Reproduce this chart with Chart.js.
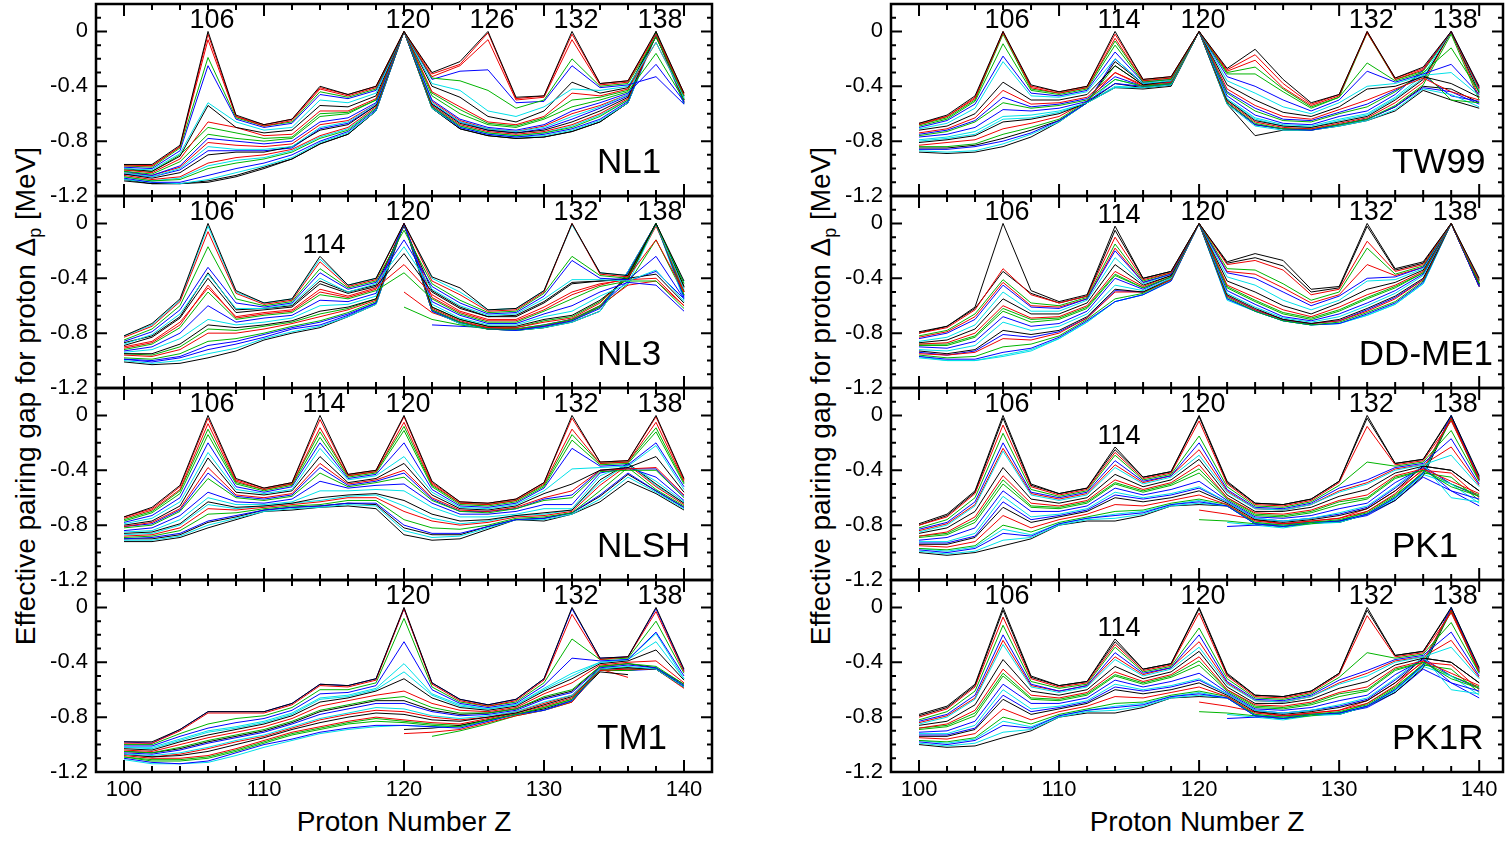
<!DOCTYPE html>
<html>
<head>
<meta charset="utf-8">
<title>Effective pairing gap for proton</title>
<script src="https://cdn.jsdelivr.net/npm/chart.js@4.4.1/dist/chart.umd.min.js"></script>
<style>
  body { margin: 0; background: #fff; width: 1506px; height: 844px; overflow: hidden; position: relative;
         font-family: "Liberation Sans", Arial, sans-serif; color: #000; }
  canvas { position: absolute; }
  .ytitle { position: absolute; top: 396px; font-size: 28px; white-space: nowrap;
            transform: translate(-50%, -50%) rotate(-90deg); }
  .ytitle sub { font-size: 18px; }
  .xtitle { position: absolute; top: 808px; font-size: 28px; line-height: 28px; white-space: nowrap;
            transform: translateX(-50%); }
</style>
</head>
<body>
<div class="ytitle" style="left:28px">Effective pairing gap for proton &Delta;<sub>p</sub> [MeV]</div>
<div class="ytitle" style="left:823px">Effective pairing gap for proton &Delta;<sub>p</sub> [MeV]</div>
<div class="xtitle" style="left:404px">Proton Number Z</div>
<div class="xtitle" style="left:1197px">Proton Number Z</div>

<script>
// proton number grid, one point every two units
const Z = [100,102,104,106,108,110,112,114,116,118,120,122,124,126,128,130,132,134,136,138,140];
const Y_TICKS = [-1.2, -0.8, -0.4, 0];
const X_TICKS = [100, 110, 120, 130, 140];
const _ = null;

// one row per isotone chain, values in MeV
const NL1 = [
  [-0.97,-0.97,-0.83, 0.00,-0.61,-0.68,-0.64,-0.40,-0.46,-0.40,0,-0.30,-0.22, 0.00,-0.48,-0.47, 0.00,-0.38,-0.36, 0.00,-0.45],
  [-0.98,-0.98,-0.84,-0.06,-0.62,-0.69,-0.65,-0.42,-0.47,-0.41,0,-0.33,-0.25,-0.06,-0.50,-0.48,-0.06,-0.39,-0.37,-0.02,-0.46],
  [-0.98,-0.99,-0.85,-0.19,-0.63,-0.69,-0.66,-0.44,-0.48,-0.42,0,-0.34,-0.36,-0.43,-0.56,-0.50,-0.20,-0.40,-0.38,-0.04,-0.47],
  [-0.99,-1.00,-0.87,-0.25,-0.64,-0.70,-0.67,-0.46,-0.49,-0.43,0,-0.35,-0.29,-0.28,-0.52,-0.51,-0.25,-0.41,-0.39,-0.33,-0.53],
  [-1.00,-1.01,-0.89,-0.52,-0.66,-0.72,-0.70,-0.50,-0.52,-0.45,0,-0.38,-0.43,-0.58,-0.62,-0.55,-0.42,-0.43,-0.40,-0.08,-0.48],
  [-1.00,-1.02,-0.91,-0.54,-0.70,-0.74,-0.72,-0.54,-0.55,-0.47,0,-0.40,-0.48,-0.62,-0.66,-0.58,-0.37,-0.45,-0.41,-0.04,-0.47],
  [-1.01,-1.03,-0.93,-0.66,-0.70,-0.76,-0.75,-0.58,-0.58,-0.49,0,-0.44,-0.55,-0.66,-0.68,-0.62,-0.45,-0.47,-0.42,-0.08,-0.48],
  [-1.02,-1.04,-0.95,-0.75,-0.78,-0.80,-0.78,-0.62,-0.60,-0.50,0,-0.47,-0.60,-0.68,-0.70,-0.64,-0.55,-0.50,-0.44,-0.16,-0.50],
  [-1.02,-1.05,-0.98,-0.78,-0.80,-0.82,-0.80,-0.66,-0.63,-0.52,0,-0.50,-0.64,-0.70,-0.72,-0.68,-0.58,-0.52,-0.45,-0.24,-0.51],
  [-1.03,-1.06,-1.00,-0.84,-0.86,-0.86,-0.84,-0.70,-0.66,-0.53,0,-0.52,-0.66,-0.71,-0.73,-0.70,-0.62,-0.55,-0.46,-0.02,-0.49],
  [-1.04,-1.07,-1.03,-0.90,-0.88,-0.88,-0.84,-0.72,-0.68,-0.54,0,-0.53,-0.67,-0.72,-0.74,-0.72,-0.66,-0.58,-0.48,-0.02,-0.50],
  [-1.05,-1.08,-1.06,-0.96,-0.92,-0.90,-0.86,-0.76,-0.70,-0.55,0,-0.54,-0.68,-0.73,-0.75,-0.73,-0.68,-0.60,-0.49,-0.03,-0.51],
  [-1.06,-1.09,-1.08,-1.00,-0.96,-0.93,-0.88,-0.78,-0.72,-0.56,0,-0.55,-0.69,-0.74,-0.76,-0.74,-0.70,-0.62,-0.50,-0.01,-0.51],
  [-1.07,-1.10,-1.10,-1.05,-1.00,-0.96,-0.90,-0.80,-0.73,-0.57,0,-0.55,-0.70,-0.75,-0.77,-0.75,-0.71,-0.64,-0.51,-0.02,-0.52],
  [-1.08,-1.10,-1.11,-1.08,-1.03,-0.98,-0.92,-0.81,-0.74,-0.58,0,-0.56,-0.70,-0.75,-0.77,-0.76,-0.72,-0.65,-0.52,-0.03,-0.53],
  [-1.09,-1.11,-1.11,-1.10,-1.06,-1.00,-0.93,-0.82,-0.75,-0.58,0,-0.56,-0.71,-0.76,-0.78,-0.77,-0.73,-0.66,-0.52,-0.01,-0.53],
  [-0.97,-0.98,-0.84,-0.02,-0.62,-0.68,-0.64,-0.41,-0.46,-0.40,0,-0.31,-0.24,-0.01,-0.49,-0.47,-0.02,-0.38,-0.36,-0.01,-0.45],
  [-1.01,-1.02,-0.90,-0.70,-0.74,-0.78,-0.77,-0.60,-0.59,-0.50,0,-0.45,-0.57,-0.67,-0.69,-0.63,-0.50,-0.48,-0.43,-0.01,-0.49],
  [-1.04,-1.06,-1.01,-0.87,-0.87,-0.87,-0.85,-0.71,-0.67,-0.54,0,-0.53,-0.66,-0.72,-0.74,-0.71,-0.64,-0.56,-0.47,-0.02,-0.50],
  [-1.06,-1.09,-1.07,-0.98,-0.94,-0.92,-0.87,-0.77,-0.71,-0.56,0,-0.54,-0.69,-0.74,-0.76,-0.74,-0.69,-0.61,-0.50,-0.01,-0.51],
  [-1.08,-1.11,-1.11,-1.09,-1.05,-0.99,-0.93,-0.82,-0.75,-0.58,0,-0.56,-0.71,-0.76,-0.78,-0.77,-0.73,-0.66,-0.52, 0.00,-0.52],
  [-1.03,-1.05,-0.99,-0.81,-0.83,-0.84,-0.82,-0.68,-0.65,-0.53,0,-0.51,-0.65,-0.71,-0.73,-0.69,-0.60,-0.54,-0.46,-0.03,-0.50]
];

const NL3 = [
  [-0.82,-0.73,-0.55, 0.00,-0.49,-0.58,-0.55,-0.24,-0.45,-0.40, 0.00,-0.39,-0.47,-0.63,-0.62,-0.49, 0.00,-0.36,-0.38, 0.00,-0.42],
  [-0.83,-0.75,-0.57,-0.06,-0.51,-0.59,-0.56,-0.28,-0.46,-0.41, 0.00,-0.42,-0.52,-0.64,-0.63,-0.50, 0.00,-0.37,-0.39,-0.12,-0.50],
  [-0.85,-0.77,-0.60,-0.17,-0.55,-0.60,-0.57,-0.33,-0.47,-0.42,-0.05,-0.44,-0.56,-0.65,-0.64,-0.51,-0.24,-0.38,-0.40, 0.00,-0.44],
  [-0.86,-0.79,-0.63,-0.32,-0.58,-0.61,-0.58,-0.36,-0.48,-0.43,-0.12,-0.46,-0.58,-0.66,-0.65,-0.53,-0.27,-0.40,-0.41,-0.24,-0.55],
  [-0.88,-0.81,-0.66,-0.37,-0.62,-0.62,-0.59,-0.40,-0.50,-0.44,-0.17,-0.48,-0.60,-0.67,-0.66,-0.55,-0.41,-0.41,-0.42,-0.34,-0.57],
  [-0.89,-0.83,-0.69,-0.40,-0.65,-0.63,-0.61,-0.44,-0.51,-0.46,-0.22,-0.50,-0.62,-0.68,-0.68,-0.58,-0.44,-0.42,-0.40,-0.37,-0.58],
  [-0.90,-0.86,-0.72,-0.47,-0.68,-0.65,-0.63,-0.48,-0.53,-0.47,-0.30,-0.52,-0.64,-0.70,-0.70,-0.61,-0.50,-0.44,-0.41,-0.40,-0.60],
  [-0.92,-0.88,-0.76,-0.50,-0.70,-0.67,-0.65,-0.52,-0.55,-0.49,-0.36,-0.55,-0.66,-0.72,-0.72,-0.64,-0.55,-0.46,-0.42,-0.42,-0.62],
  [-0.93,-0.90,-0.80,-0.60,-0.72,-0.69,-0.67,-0.56,-0.57,-0.51, 0.00,-0.57,-0.67,-0.73,-0.73,-0.66,-0.60,-0.50,-0.43,-0.45,-0.64],
  [-0.94,-0.92,-0.84,-0.70,-0.74,-0.72,-0.69,-0.60,-0.59,-0.53, 0.00,-0.59,-0.69,-0.74,-0.74,-0.68,-0.64,-0.53,-0.44, 0.00,-0.48],
  [-0.95,-0.95,-0.88,-0.74,-0.76,-0.74,-0.71,-0.64,-0.61,-0.55, 0.00,-0.61,-0.70,-0.75,-0.75,-0.70,-0.67,-0.56,-0.40, 0.00,-0.46],
  [-0.96,-0.97,-0.92,-0.80,-0.80,-0.77,-0.73,-0.68,-0.63,-0.56, 0.00,-0.62,-0.71,-0.76,-0.76,-0.72,-0.69,-0.58,-0.38, 0.00,-0.50],
  [-0.98,-0.99,-0.95,-0.86,-0.84,-0.80,-0.75,-0.71,-0.65,-0.57, 0.00,-0.63,-0.72,-0.77,-0.77,-0.74,-0.70,-0.60,-0.37, 0.00,-0.52],
  [-0.99,-1.01,-0.98,-0.92,-0.88,-0.83,-0.77,-0.74,-0.67,-0.58, 0.00,-0.64,-0.72,-0.77,-0.78,-0.75,-0.71,-0.62,-0.36, 0.00,-0.54],
  [-1.00,-1.02,-1.00,-0.95,-0.91,-0.84,-0.79,-0.75,-0.68,-0.59, 0.00,-0.64,-0.73,-0.77,-0.78,-0.76,-0.72,-0.64,-0.35, 0.00,-0.56],
  [-1.01,-1.03,-1.02,-0.98,-0.93,-0.85,-0.80,-0.76,-0.68,-0.59, 0.00,-0.64,-0.73,-0.77,-0.78,-0.76,-0.72,-0.64,-0.35, 0.00,-0.50],
  [_,_,_,_,_,_,_,_,_,_,-0.50,-0.65,-0.72,-0.76,-0.77,-0.75,-0.70,-0.60,-0.45,-0.42,-0.60],
  [_,_,_,_,_,_,_,_,_,_,-0.61,-0.70,-0.74,-0.77,-0.78,-0.76,-0.71,-0.61,-0.44,-0.12,-0.52],
  [_,_,_,_,_,_,_,_,_,_,_,-0.74,-0.75,-0.76,-0.77,-0.75,-0.70,-0.60,-0.42,-0.35,-0.55],
  [-0.82,-0.74,-0.56,-0.02,-0.50,-0.58,-0.55,-0.26,-0.45,-0.40, 0.00,-0.40,-0.50,-0.63,-0.62,-0.49,-0.01,-0.36,-0.38,-0.01,-0.43],
  [-0.87,-0.82,-0.68,-0.36,-0.63,-0.62,-0.60,-0.42,-0.50,-0.45,-0.02,-0.49,-0.61,-0.68,-0.67,-0.57,-0.43,-0.42,-0.41, 0.00,-0.46],
  [-0.91,-0.87,-0.74,-0.45,-0.69,-0.66,-0.64,-0.50,-0.54,-0.48, 0.00,-0.54,-0.65,-0.71,-0.71,-0.63,-0.52,-0.45,-0.40,-0.02,-0.47],
  [-0.95,-0.96,-0.90,-0.77,-0.78,-0.75,-0.72,-0.66,-0.62,-0.55, 0.00,-0.61,-0.70,-0.75,-0.76,-0.71,-0.68,-0.57,-0.39,-0.01,-0.49],
  [-0.99,-1.00,-0.97,-0.89,-0.86,-0.81,-0.76,-0.72,-0.66,-0.58, 0.00,-0.63,-0.72,-0.77,-0.77,-0.74,-0.70,-0.61,-0.36, 0.00,-0.53]
];

const NLSH = [
  [-0.74,-0.67,-0.51, 0.00,-0.46,-0.53,-0.49, 0.00,-0.43,-0.40, 0.00,-0.48,-0.63,-0.64,-0.61,-0.49, 0.00,-0.34,-0.33, 0.00,-0.46],
  [-0.75,-0.69,-0.54,-0.06,-0.48,-0.54,-0.50,-0.09,-0.44,-0.41,-0.05,-0.50,-0.64,-0.65,-0.62,-0.50,-0.10,-0.35,-0.34,-0.05,-0.48],
  [-0.77,-0.71,-0.57,-0.14,-0.50,-0.55,-0.51,-0.16,-0.45,-0.42,-0.11,-0.52,-0.65,-0.66,-0.63,-0.52,-0.18,-0.36,-0.35,-0.12,-0.50],
  [-0.78,-0.73,-0.60,-0.20,-0.52,-0.56,-0.52,-0.20,-0.46,-0.43,-0.20,-0.54,-0.66,-0.67,-0.64,-0.53,-0.24,-0.37,-0.36,-0.20,-0.52],
  [-0.79,-0.75,-0.63,-0.27,-0.54,-0.57,-0.54,-0.24,-0.47,-0.44,-0.30,-0.56,-0.67,-0.68,-0.65,-0.55,-0.39,-0.38,-0.37,-0.22,-0.54],
  [-0.80,-0.77,-0.66,-0.31,-0.56,-0.58,-0.55,-0.30,-0.49,-0.46,-0.35,-0.58,-0.68,-0.69,-0.66,-0.57,-0.50,-0.40,-0.38,-0.30,-0.56],
  [-0.81,-0.78,-0.68,-0.38,-0.58,-0.60,-0.57,-0.35,-0.50,-0.47,-0.40,-0.60,-0.69,-0.70,-0.67,-0.60,-0.55,-0.40,-0.39,-0.38,-0.58],
  [-0.82,-0.80,-0.70,-0.46,-0.60,-0.62,-0.59,-0.42,-0.52,-0.49,-0.45,-0.62,-0.70,-0.71,-0.68,-0.62,-0.60,-0.41,-0.40,-0.40,-0.60],
  [-0.84,-0.82,-0.73,-0.56,-0.63,-0.64,-0.61,-0.48,-0.53,-0.51,-0.50,-0.64,-0.72,-0.72,-0.70,-0.65,-0.65,-0.42,-0.38,-0.45,-0.62],
  [-0.85,-0.84,-0.76,-0.60,-0.65,-0.65,-0.63,-0.55,-0.55,-0.54,-0.55,-0.67,-0.74,-0.74,-0.72,-0.68,-0.68,-0.44,-0.36,-0.48,-0.63],
  [-0.86,-0.85,-0.79,-0.63,-0.67,-0.66,-0.64,-0.60,-0.58,-0.57,-0.62,-0.72,-0.77,-0.76,-0.73,-0.71,-0.69,-0.47,-0.35,-0.50,-0.64],
  [-0.88,-0.87,-0.82,-0.68,-0.69,-0.67,-0.65,-0.63,-0.60,-0.60,-0.70,-0.77,-0.80,-0.78,-0.74,-0.73,-0.70,-0.51,-0.36,-0.52,-0.65],
  [-0.89,-0.88,-0.84,-0.72,-0.71,-0.68,-0.66,-0.65,-0.62,-0.62,-0.76,-0.82,-0.83,-0.80,-0.75,-0.74,-0.71,-0.55,-0.38,-0.54,-0.66],
  [-0.90,-0.89,-0.86,-0.77,-0.73,-0.69,-0.67,-0.66,-0.64,-0.64,-0.80,-0.86,-0.86,-0.81,-0.76,-0.75,-0.71,-0.58,-0.42,-0.55,-0.67],
  [-0.91,-0.91,-0.88,-0.80,-0.75,-0.70,-0.68,-0.67,-0.65,-0.66,-0.84,-0.89,-0.88,-0.82,-0.76,-0.76,-0.72,-0.61,-0.45,-0.56,-0.68],
  [-0.92,-0.92,-0.89,-0.82,-0.76,-0.70,-0.69,-0.67,-0.66,-0.68,-0.87,-0.91,-0.90,-0.83,-0.76,-0.77,-0.72,-0.63,-0.48,-0.57,-0.69],
  [-0.74,-0.68,-0.52,-0.02,-0.47,-0.53,-0.49,-0.03,-0.43,-0.40,-0.01,-0.49,-0.63,-0.64,-0.61,-0.49,-0.02,-0.34,-0.33,-0.01,-0.47],
  [-0.76,-0.70,-0.55,-0.10,-0.49,-0.54,-0.50,-0.12,-0.44,-0.41,-0.08,-0.51,-0.64,-0.65,-0.62,-0.51,-0.14,-0.35,-0.34,-0.09,-0.49],
  [-0.81,-0.79,-0.69,-0.42,-0.59,-0.61,-0.58,-0.38,-0.51,-0.48,-0.42,-0.61,-0.70,-0.70,-0.68,-0.61,-0.58,-0.40,-0.39,-0.39,-0.59],
  [-0.87,-0.86,-0.80,-0.65,-0.68,-0.66,-0.64,-0.62,-0.59,-0.58,-0.66,-0.75,-0.79,-0.77,-0.73,-0.72,-0.69,-0.49,-0.35,-0.51,-0.64],
  [-0.90,-0.90,-0.87,-0.78,-0.74,-0.69,-0.67,-0.66,-0.64,-0.65,-0.82,-0.87,-0.87,-0.81,-0.76,-0.75,-0.71,-0.59,-0.43,-0.55,-0.67]
];

const TM1 = [
  [-0.98,-0.98,-0.89,-0.76,-0.76,-0.76,-0.70,-0.56,-0.57,-0.52, 0.00,-0.55,-0.67,-0.71,-0.67,-0.52, 0.00,-0.37,-0.36, 0.00,-0.45],
  [-0.99,-0.99,-0.90,-0.77,-0.77,-0.77,-0.71,-0.57,-0.58,-0.53,-0.01,-0.56,-0.68,-0.72,-0.68,-0.53,-0.05,-0.38,-0.36,-0.03,-0.47],
  [-1.00,-1.00,-0.92,-0.85,-0.81,-0.79,-0.73,-0.60,-0.60,-0.55,-0.08,-0.58,-0.69,-0.72,-0.69,-0.55,-0.23,-0.38,-0.37,-0.10,-0.48],
  [-1.01,-1.01,-0.94,-0.88,-0.84,-0.81,-0.75,-0.63,-0.62,-0.57,-0.25,-0.60,-0.70,-0.73,-0.70,-0.57,-0.37,-0.39,-0.38,-0.18,-0.50],
  [-1.02,-1.02,-0.96,-0.90,-0.87,-0.83,-0.77,-0.66,-0.64,-0.59,-0.41,-0.63,-0.71,-0.74,-0.71,-0.59,-0.48,-0.40,-0.38,-0.19,-0.52],
  [-1.03,-1.04,-0.98,-0.93,-0.89,-0.85,-0.79,-0.69,-0.66,-0.61,-0.52,-0.66,-0.73,-0.75,-0.72,-0.61,-0.52,-0.41,-0.39,-0.31,-0.53],
  [-1.04,-1.05,-1.00,-0.95,-0.91,-0.87,-0.81,-0.72,-0.68,-0.64,-0.61,-0.70,-0.75,-0.76,-0.73,-0.63,-0.55,-0.42,-0.40,-0.39,-0.55],
  [-1.05,-1.06,-1.02,-0.97,-0.93,-0.89,-0.83,-0.75,-0.71,-0.67,-0.65,-0.73,-0.77,-0.77,-0.74,-0.65,-0.60,-0.43,-0.41,-0.43,-0.56],
  [-1.06,-1.07,-1.04,-0.99,-0.95,-0.91,-0.85,-0.78,-0.74,-0.70,-0.70,-0.76,-0.79,-0.78,-0.75,-0.67,-0.62,-0.44,-0.42,-0.44,-0.57],
  [-1.07,-1.08,-1.06,-1.02,-0.97,-0.93,-0.87,-0.81,-0.77,-0.73,-0.74,-0.79,-0.81,-0.79,-0.76,-0.69,-0.64,-0.45,-0.43,-0.45,-0.58],
  [-1.07,-1.09,-1.08,-1.05,-1.00,-0.95,-0.89,-0.84,-0.80,-0.77,-0.78,-0.82,-0.83,-0.80,-0.77,-0.71,-0.65,-0.45,-0.44,-0.45,-0.58],
  [-1.08,-1.10,-1.10,-1.08,-1.03,-0.97,-0.91,-0.87,-0.83,-0.80,-0.82,-0.84,-0.85,-0.81,-0.77,-0.72,-0.66,-0.46,-0.45,-0.45,-0.59],
  [-1.09,-1.12,-1.12,-1.10,-1.05,-0.99,-0.93,-0.89,-0.85,-0.83,-0.84,-0.86,-0.87,-0.82,-0.78,-0.73,-0.67,-0.46,-0.46,-0.44,-0.58],
  [-1.10,-1.13,-1.14,-1.12,-1.06,-1.00,-0.96,-0.91,-0.88,-0.86,-0.86,-0.87,-0.88,-0.83,-0.78,-0.75,-0.68,-0.46,-0.46,-0.45,-0.58],
  [-1.11,-1.14,-1.14,-1.13,-1.08,-1.02,-0.97,-0.92,-0.89,-0.87,-0.86,-0.87,-0.87,-0.83,-0.78,-0.75,-0.68,-0.46,-0.45,-0.44,-0.57],
  [_,_,_,_,_,_,_,_,_,_,-0.89,-0.88,-0.86,-0.82,-0.78,-0.74,-0.68,-0.47,-0.49,_,_],
  [_,_,_,_,_,_,_,_,_,_,-0.92,-0.91,-0.89,-0.84,-0.79,-0.75,-0.69,-0.45,-0.51,_,_],
  [_,_,_,_,_,_,_,_,_,_,_,-0.94,-0.90,-0.85,-0.79,-0.75,-0.69,-0.43,-0.44,_,_],
  [-0.98,-0.99,-0.89,-0.76,-0.76,-0.76,-0.70,-0.56,-0.57,-0.52,-0.01,-0.55,-0.67,-0.71,-0.67,-0.52,-0.01,-0.37,-0.36,-0.01,-0.46],
  [-1.02,-1.03,-0.97,-0.91,-0.88,-0.84,-0.78,-0.67,-0.65,-0.60,-0.47,-0.64,-0.72,-0.74,-0.71,-0.60,-0.50,-0.40,-0.38,-0.25,-0.52],
  [-1.05,-1.06,-1.03,-0.98,-0.94,-0.90,-0.84,-0.76,-0.72,-0.68,-0.68,-0.75,-0.78,-0.77,-0.74,-0.66,-0.61,-0.43,-0.41,-0.44,-0.56],
  [-1.07,-1.09,-1.07,-1.03,-0.98,-0.94,-0.88,-0.82,-0.78,-0.75,-0.76,-0.80,-0.82,-0.80,-0.76,-0.70,-0.64,-0.45,-0.44,-0.45,-0.58],
  [-1.09,-1.11,-1.11,-1.09,-1.04,-0.98,-0.92,-0.88,-0.84,-0.81,-0.83,-0.85,-0.86,-0.82,-0.78,-0.73,-0.67,-0.46,-0.45,-0.45,-0.58]
];

const TW99 = [
  [-0.67,-0.61,-0.47, 0.00,-0.39,-0.44,-0.40, 0.00,-0.35,-0.33,0,-0.27,-0.13,-0.35,-0.52,-0.46, 0.00,-0.34,-0.26, 0.00,-0.40],
  [-0.68,-0.62,-0.49, 0.00,-0.41,-0.45,-0.41,-0.05,-0.36,-0.34,0,-0.29,-0.21,-0.41,-0.54,-0.47, 0.00,-0.35,-0.28, 0.00,-0.42],
  [-0.69,-0.64,-0.51,-0.09,-0.43,-0.46,-0.42,-0.10,-0.37,-0.35,0,-0.31,-0.31,-0.44,-0.56,-0.48,-0.23,-0.36,-0.30,-0.12,-0.44],
  [-0.70,-0.65,-0.53,-0.18,-0.45,-0.47,-0.43,-0.15,-0.37,-0.35,0,-0.33,-0.40,-0.50,-0.58,-0.50,-0.29,-0.37,-0.31,-0.24,-0.46],
  [-0.71,-0.67,-0.56,-0.22,-0.47,-0.48,-0.44,-0.20,-0.38,-0.36,0,-0.36,-0.45,-0.55,-0.60,-0.52,-0.40,-0.38,-0.32,-0.30,-0.47],
  [-0.72,-0.69,-0.60,-0.37,-0.50,-0.50,-0.46,-0.25,-0.39,-0.36,0,-0.39,-0.50,-0.59,-0.62,-0.55,-0.42,-0.40,-0.33,-0.38,-0.48],
  [-0.74,-0.71,-0.63,-0.43,-0.53,-0.52,-0.48,-0.30,-0.39,-0.37,0,-0.42,-0.54,-0.62,-0.64,-0.57,-0.50,-0.42,-0.34,-0.44,-0.50],
  [-0.76,-0.73,-0.66,-0.52,-0.56,-0.54,-0.50,-0.35,-0.40,-0.38,0,-0.45,-0.58,-0.65,-0.66,-0.60,-0.55,-0.44,-0.30,-0.50,-0.52],
  [-0.77,-0.75,-0.70,-0.57,-0.58,-0.56,-0.51,-0.38,-0.40,-0.38,0,-0.47,-0.61,-0.67,-0.68,-0.62,-0.58,-0.46,-0.28, 0.00,-0.41],
  [-0.79,-0.77,-0.73,-0.62,-0.61,-0.58,-0.52,-0.41,-0.41,-0.39,0,-0.49,-0.63,-0.68,-0.69,-0.64,-0.60,-0.48,-0.32, 0.00,-0.43],
  [-0.81,-0.79,-0.76,-0.66,-0.64,-0.60,-0.52,-0.38,-0.41,-0.39,0,-0.50,-0.65,-0.69,-0.70,-0.66,-0.62,-0.50,-0.35, 0.00,-0.45],
  [-0.83,-0.81,-0.79,-0.71,-0.67,-0.62,-0.51,-0.30,-0.40,-0.38,0,-0.51,-0.66,-0.70,-0.71,-0.67,-0.63,-0.52,-0.37, 0.00,-0.48],
  [-0.84,-0.84,-0.82,-0.75,-0.70,-0.64,-0.51,-0.25,-0.39,-0.38,0,-0.52,-0.67,-0.71,-0.71,-0.68,-0.64,-0.54,-0.39,-0.02,-0.50],
  [-0.86,-0.86,-0.84,-0.80,-0.74,-0.65,-0.52,-0.20,-0.38,-0.37,0,-0.52,-0.68,-0.71,-0.72,-0.68,-0.64,-0.55,-0.41,-0.44,-0.53],
  [-0.87,-0.88,-0.87,-0.82,-0.75,-0.66,-0.52,-0.35,-0.40,-0.39,0,-0.53,-0.69,-0.72,-0.72,-0.69,-0.65,-0.57,-0.42,-0.46,-0.55],
  [-0.88,-0.89,-0.88,-0.84,-0.77,-0.66,-0.52,-0.41,-0.42,-0.40,0,-0.53,-0.76,-0.72,-0.72,-0.69,-0.65,-0.58,-0.43,-0.50,-0.56],
  [-0.67,-0.62,-0.48,-0.01,-0.40,-0.44,-0.40,-0.02,-0.35,-0.33,0,-0.28,-0.17,-0.38,-0.53,-0.46,-0.01,-0.34,-0.27,-0.01,-0.41],
  [-0.68,-0.63,-0.50,-0.02,-0.42,-0.45,-0.41,-0.07,-0.36,-0.34,0,-0.30,-0.26,-0.42,-0.55,-0.48,-0.01,-0.35,-0.29,-0.01,-0.43],
  [-0.75,-0.72,-0.65,-0.48,-0.55,-0.53,-0.49,-0.33,-0.40,-0.38,0,-0.44,-0.56,-0.64,-0.65,-0.59,-0.53,-0.43,-0.32,-0.47,-0.51],
  [-0.80,-0.78,-0.75,-0.64,-0.63,-0.59,-0.52,-0.40,-0.41,-0.39,0,-0.50,-0.64,-0.69,-0.70,-0.65,-0.61,-0.49,-0.34,-0.01,-0.44],
  [-0.85,-0.85,-0.83,-0.78,-0.72,-0.65,-0.52,-0.22,-0.38,-0.37,0,-0.52,-0.68,-0.71,-0.72,-0.68,-0.64,-0.55,-0.40,-0.42,-0.52]
];

const DDME1 = [
  [-0.79,-0.75,-0.61, 0.00,-0.49,-0.57,-0.52,-0.02,-0.40,-0.35,0,-0.28,-0.22,-0.27,-0.48,-0.46, 0.00,-0.33,-0.28,0,-0.40],
  [-0.80,-0.76,-0.63,-0.33,-0.52,-0.58,-0.53,-0.10,-0.41,-0.36,0,-0.30,-0.27,-0.34,-0.52,-0.48,-0.13,-0.35,-0.30,0,-0.42],
  [-0.82,-0.78,-0.66,-0.41,-0.58,-0.60,-0.54,-0.15,-0.42,-0.36,0,-0.33,-0.34,-0.44,-0.56,-0.50,-0.18,-0.37,-0.31,0,-0.44],
  [-0.84,-0.80,-0.70,-0.45,-0.61,-0.62,-0.55,-0.20,-0.43,-0.37,0,-0.36,-0.40,-0.50,-0.60,-0.53,-0.40,-0.39,-0.32,0,-0.46],
  [-0.86,-0.83,-0.74,-0.50,-0.64,-0.64,-0.56,-0.25,-0.44,-0.37,0,-0.39,-0.45,-0.56,-0.63,-0.56,-0.42,-0.41,-0.33,0,-0.42],
  [-0.87,-0.85,-0.77,-0.55,-0.66,-0.66,-0.58,-0.30,-0.45,-0.38,0,-0.42,-0.50,-0.60,-0.66,-0.58,-0.48,-0.43,-0.34,0,-0.44],
  [-0.88,-0.87,-0.80,-0.60,-0.69,-0.68,-0.60,-0.35,-0.46,-0.38,0,-0.45,-0.54,-0.63,-0.68,-0.61,-0.52,-0.45,-0.35,0,-0.46],
  [-0.89,-0.89,-0.83,-0.64,-0.72,-0.70,-0.62,-0.38,-0.47,-0.39,0,-0.47,-0.57,-0.66,-0.70,-0.64,-0.55,-0.47,-0.36,0,-0.43],
  [-0.90,-0.91,-0.86,-0.68,-0.75,-0.73,-0.64,-0.40,-0.48,-0.39,0,-0.49,-0.59,-0.68,-0.71,-0.66,-0.58,-0.49,-0.37,0,-0.45],
  [-0.92,-0.93,-0.89,-0.72,-0.78,-0.75,-0.66,-0.45,-0.49,-0.40,0,-0.51,-0.61,-0.69,-0.72,-0.68,-0.60,-0.51,-0.38,0,-0.44],
  [-0.93,-0.95,-0.92,-0.78,-0.81,-0.78,-0.68,-0.48,-0.50,-0.40,0,-0.52,-0.62,-0.70,-0.73,-0.70,-0.62,-0.53,-0.40,0,-0.46],
  [-0.95,-0.96,-0.94,-0.84,-0.85,-0.80,-0.69,-0.50,-0.50,-0.41,0,-0.53,-0.63,-0.70,-0.73,-0.71,-0.64,-0.55,-0.41,0,-0.44],
  [-0.96,-0.98,-0.97,-0.90,-0.88,-0.82,-0.70,-0.55,-0.51,-0.41,0,-0.54,-0.64,-0.71,-0.74,-0.72,-0.65,-0.57,-0.42,0,-0.45],
  [-0.97,-0.99,-0.99,-0.94,-0.91,-0.83,-0.71,-0.57,-0.52,-0.42,0,-0.55,-0.64,-0.71,-0.74,-0.73,-0.66,-0.58,-0.43,0,-0.46],
  [-0.98,-1.00,-1.00,-0.97,-0.93,-0.84,-0.72,-0.57,-0.52,-0.42,0,-0.56,-0.64,-0.71,-0.74,-0.73,-0.67,-0.59,-0.44,0,-0.45],
  [-0.80,-0.75,-0.62,-0.35,-0.51,-0.58,-0.53,-0.05,-0.40,-0.35,0,-0.29,-0.25,-0.31,-0.50,-0.47,-0.02,-0.34,-0.29,0,-0.41],
  [-0.83,-0.79,-0.68,-0.43,-0.60,-0.61,-0.55,-0.18,-0.43,-0.37,0,-0.35,-0.37,-0.47,-0.58,-0.52,-0.30,-0.38,-0.32,0,-0.45],
  [-0.88,-0.88,-0.82,-0.62,-0.70,-0.69,-0.61,-0.37,-0.47,-0.39,0,-0.46,-0.56,-0.65,-0.69,-0.63,-0.54,-0.46,-0.36,0,-0.44],
  [-0.94,-0.96,-0.93,-0.81,-0.83,-0.79,-0.69,-0.49,-0.50,-0.41,0,-0.53,-0.63,-0.70,-0.73,-0.71,-0.63,-0.54,-0.41,0,-0.45],
  [-0.97,-1.00,-1.00,-0.96,-0.92,-0.84,-0.72,-0.57,-0.52,-0.42,0,-0.55,-0.64,-0.71,-0.74,-0.73,-0.67,-0.59,-0.44,0,-0.46]
];

const PK1 = [
  [-0.79,-0.72,-0.55, 0.00,-0.50,-0.57,-0.53,-0.23,-0.45,-0.41, 0.00,-0.48,-0.64,-0.65,-0.61,-0.48, 0.00,-0.35,-0.32, 0.00,-0.44],
  [-0.80,-0.74,-0.57,-0.07,-0.52,-0.58,-0.54,-0.27,-0.46,-0.42,-0.04,-0.50,-0.65,-0.66,-0.62,-0.49,-0.08,-0.36,-0.33,-0.04,-0.46],
  [-0.82,-0.76,-0.60,-0.13,-0.54,-0.59,-0.55,-0.29,-0.47,-0.43,-0.15,-0.52,-0.66,-0.67,-0.63,-0.51,-0.34,-0.37,-0.34,-0.11,-0.48],
  [-0.83,-0.78,-0.63,-0.20,-0.56,-0.60,-0.56,-0.33,-0.48,-0.44,-0.20,-0.54,-0.67,-0.68,-0.64,-0.53,-0.47,-0.38,-0.35,-0.17,-0.50],
  [-0.85,-0.80,-0.66,-0.26,-0.58,-0.62,-0.58,-0.38,-0.50,-0.45,-0.29,-0.56,-0.68,-0.69,-0.65,-0.56,-0.50,-0.40,-0.36,-0.29,-0.52],
  [-0.86,-0.82,-0.70,-0.38,-0.61,-0.64,-0.60,-0.43,-0.52,-0.47,-0.32,-0.58,-0.70,-0.70,-0.67,-0.59,-0.54,-0.42,-0.37,-0.40,-0.55],
  [-0.88,-0.85,-0.74,-0.44,-0.64,-0.66,-0.62,-0.47,-0.54,-0.49,-0.36,-0.60,-0.71,-0.72,-0.69,-0.62,-0.58,-0.44,-0.39,-0.48,-0.57],
  [-0.89,-0.87,-0.78,-0.50,-0.67,-0.68,-0.64,-0.50,-0.56,-0.51,-0.42,-0.61,-0.73,-0.74,-0.71,-0.65,-0.61,-0.46,-0.40,-0.52,-0.59],
  [-0.91,-0.89,-0.82,-0.55,-0.70,-0.70,-0.66,-0.53,-0.58,-0.54,-0.48,-0.62,-0.74,-0.75,-0.73,-0.68,-0.64,-0.49,-0.38,-0.55,-0.61],
  [-0.92,-0.92,-0.86,-0.59,-0.74,-0.72,-0.68,-0.56,-0.60,-0.57,-0.52,-0.63,-0.75,-0.77,-0.75,-0.71,-0.66,-0.52,-0.36,-0.60,-0.63],
  [-0.94,-0.94,-0.89,-0.67,-0.78,-0.74,-0.70,-0.60,-0.63,-0.60,-0.55,-0.64,-0.76,-0.78,-0.76,-0.73,-0.68,-0.55,-0.37,-0.40,-0.55],
  [-0.95,-0.96,-0.92,-0.73,-0.82,-0.76,-0.72,-0.65,-0.66,-0.62,-0.58,-0.65,-0.77,-0.79,-0.77,-0.75,-0.70,-0.57,-0.39,-0.02,-0.47],
  [-0.97,-0.98,-0.95,-0.80,-0.85,-0.78,-0.74,-0.70,-0.69,-0.64,-0.61,-0.65,-0.78,-0.80,-0.78,-0.76,-0.71,-0.59,-0.41,-0.03,-0.48],
  [-0.98,-1.00,-0.97,-0.86,-0.88,-0.79,-0.75,-0.73,-0.71,-0.65,-0.63,-0.66,-0.79,-0.81,-0.78,-0.77,-0.72,-0.60,-0.42, 0.00,-0.46],
  [-0.99,-1.01,-0.99,-0.91,-0.89,-0.80,-0.76,-0.75,-0.72,-0.66,-0.64,-0.66,-0.79,-0.81,-0.78,-0.78,-0.72,-0.61,-0.43, 0.00,-0.45],
  [-1.00,-1.02,-1.00,-0.95,-0.90,-0.80,-0.77,-0.77,-0.73,-0.66,-0.65,-0.66,-0.79,-0.81,-0.78,-0.78,-0.72,-0.62,-0.44,-0.02,-0.47],
  [_,_,_,_,_,_,_,_,_,_,-0.69,-0.72,-0.76,-0.79,-0.77,-0.75,-0.68,-0.55,-0.40,-0.42,-0.60],
  [_,_,_,_,_,_,_,_,_,_,-0.76,-0.77,-0.79,-0.81,-0.79,-0.77,-0.70,-0.58,-0.42,-0.45,-0.62],
  [_,_,_,_,_,_,_,_,_,_,_,-0.81,-0.80,-0.79,-0.78,-0.77,-0.73,-0.62,-0.45,-0.55,-0.66],
  [_,_,_,_,_,_,_,_,_,_,_,-0.78,-0.80,-0.82,-0.79,-0.78,-0.72,-0.60,-0.43,-0.50,-0.64],
  [-0.80,-0.73,-0.56,-0.02,-0.51,-0.57,-0.53,-0.25,-0.45,-0.41,-0.01,-0.49,-0.64,-0.65,-0.61,-0.48,-0.02,-0.35,-0.32,-0.01,-0.45],
  [-0.84,-0.79,-0.65,-0.24,-0.57,-0.61,-0.57,-0.36,-0.49,-0.44,-0.25,-0.55,-0.68,-0.69,-0.65,-0.55,-0.49,-0.39,-0.36,-0.23,-0.51],
  [-0.88,-0.86,-0.76,-0.47,-0.66,-0.67,-0.63,-0.49,-0.55,-0.50,-0.39,-0.60,-0.72,-0.73,-0.70,-0.63,-0.60,-0.45,-0.40,-0.50,-0.58],
  [-0.93,-0.93,-0.88,-0.63,-0.76,-0.73,-0.69,-0.58,-0.61,-0.58,-0.53,-0.63,-0.75,-0.77,-0.75,-0.72,-0.67,-0.53,-0.37,-0.50,-0.59],
  [-0.97,-0.99,-0.96,-0.83,-0.87,-0.79,-0.75,-0.72,-0.70,-0.65,-0.62,-0.66,-0.78,-0.80,-0.78,-0.77,-0.72,-0.60,-0.42,-0.01,-0.47]
];

const PK1R = [
  [-0.78,-0.72,-0.56, 0.00,-0.50,-0.57,-0.54,-0.23,-0.45,-0.41, 0.00,-0.48,-0.64,-0.65,-0.61,-0.48, 0.00,-0.35,-0.32, 0.00,-0.44],
  [-0.80,-0.74,-0.58,-0.07,-0.52,-0.58,-0.55,-0.27,-0.46,-0.42,-0.04,-0.50,-0.65,-0.66,-0.62,-0.49,-0.06,-0.36,-0.33,-0.04,-0.46],
  [-0.82,-0.76,-0.61,-0.13,-0.54,-0.59,-0.56,-0.29,-0.47,-0.43,-0.15,-0.52,-0.66,-0.67,-0.63,-0.51,-0.33,-0.37,-0.34,-0.11,-0.48],
  [-0.83,-0.78,-0.64,-0.20,-0.56,-0.61,-0.57,-0.33,-0.48,-0.44,-0.20,-0.54,-0.67,-0.68,-0.64,-0.53,-0.46,-0.38,-0.35,-0.18,-0.50],
  [-0.85,-0.80,-0.67,-0.27,-0.58,-0.62,-0.58,-0.38,-0.50,-0.45,-0.29,-0.56,-0.68,-0.69,-0.65,-0.56,-0.50,-0.40,-0.36,-0.29,-0.52],
  [-0.86,-0.83,-0.71,-0.38,-0.61,-0.64,-0.60,-0.43,-0.52,-0.47,-0.32,-0.58,-0.70,-0.70,-0.67,-0.59,-0.54,-0.42,-0.37,-0.40,-0.55],
  [-0.88,-0.85,-0.75,-0.45,-0.64,-0.66,-0.62,-0.47,-0.54,-0.49,-0.36,-0.60,-0.71,-0.72,-0.69,-0.62,-0.58,-0.44,-0.39,-0.48,-0.57],
  [-0.89,-0.87,-0.79,-0.50,-0.67,-0.68,-0.64,-0.50,-0.56,-0.51,-0.42,-0.61,-0.73,-0.74,-0.71,-0.65,-0.61,-0.46,-0.40,-0.52,-0.59],
  [-0.91,-0.90,-0.83,-0.56,-0.70,-0.70,-0.66,-0.53,-0.58,-0.54,-0.48,-0.62,-0.74,-0.75,-0.73,-0.68,-0.64,-0.49,-0.38,-0.55,-0.61],
  [-0.92,-0.92,-0.86,-0.60,-0.74,-0.72,-0.68,-0.56,-0.60,-0.57,-0.52,-0.63,-0.75,-0.77,-0.75,-0.71,-0.66,-0.52,-0.36,-0.60,-0.63],
  [-0.94,-0.94,-0.89,-0.67,-0.78,-0.74,-0.70,-0.60,-0.63,-0.60,-0.55,-0.64,-0.76,-0.78,-0.76,-0.73,-0.68,-0.55,-0.37,-0.40,-0.55],
  [-0.95,-0.96,-0.92,-0.74,-0.82,-0.76,-0.72,-0.65,-0.66,-0.62,-0.58,-0.65,-0.77,-0.79,-0.77,-0.75,-0.70,-0.57,-0.39,-0.02,-0.47],
  [-0.97,-0.98,-0.95,-0.80,-0.85,-0.78,-0.74,-0.70,-0.69,-0.64,-0.61,-0.65,-0.78,-0.80,-0.78,-0.76,-0.71,-0.59,-0.41,-0.03,-0.48],
  [-0.98,-1.00,-0.97,-0.86,-0.88,-0.79,-0.75,-0.73,-0.71,-0.65,-0.63,-0.66,-0.79,-0.81,-0.78,-0.77,-0.72,-0.60,-0.42, 0.00,-0.46],
  [-0.99,-1.01,-0.99,-0.91,-0.89,-0.80,-0.76,-0.75,-0.72,-0.66,-0.64,-0.66,-0.79,-0.81,-0.78,-0.78,-0.72,-0.61,-0.43, 0.00,-0.45],
  [-1.00,-1.02,-1.01,-0.95,-0.90,-0.80,-0.77,-0.77,-0.73,-0.66,-0.65,-0.66,-0.79,-0.81,-0.78,-0.78,-0.72,-0.62,-0.44,-0.02,-0.47],
  [_,_,_,_,_,_,_,_,_,_,-0.69,-0.72,-0.76,-0.79,-0.77,-0.75,-0.68,-0.55,-0.40,-0.42,-0.60],
  [_,_,_,_,_,_,_,_,_,_,-0.76,-0.77,-0.79,-0.81,-0.79,-0.77,-0.70,-0.58,-0.42,-0.45,-0.62],
  [_,_,_,_,_,_,_,_,_,_,_,-0.81,-0.80,-0.79,-0.78,-0.77,-0.73,-0.62,-0.45,-0.55,-0.66],
  [_,_,_,_,_,_,_,_,_,_,_,-0.78,-0.80,-0.82,-0.79,-0.78,-0.72,-0.60,-0.43,-0.50,-0.64],
  [-0.79,-0.73,-0.57,-0.02,-0.51,-0.57,-0.54,-0.25,-0.45,-0.41,-0.01,-0.49,-0.64,-0.65,-0.61,-0.48,-0.02,-0.35,-0.32,-0.01,-0.45],
  [-0.84,-0.79,-0.66,-0.24,-0.57,-0.61,-0.57,-0.36,-0.49,-0.44,-0.25,-0.55,-0.68,-0.69,-0.65,-0.55,-0.48,-0.39,-0.36,-0.24,-0.51],
  [-0.88,-0.86,-0.77,-0.48,-0.66,-0.67,-0.63,-0.49,-0.55,-0.50,-0.39,-0.60,-0.72,-0.73,-0.70,-0.63,-0.60,-0.45,-0.40,-0.50,-0.58],
  [-0.93,-0.93,-0.88,-0.64,-0.76,-0.73,-0.69,-0.58,-0.61,-0.58,-0.53,-0.63,-0.75,-0.77,-0.75,-0.72,-0.67,-0.53,-0.37,-0.50,-0.59],
  [-0.97,-0.99,-0.96,-0.83,-0.87,-0.79,-0.75,-0.72,-0.70,-0.65,-0.62,-0.66,-0.78,-0.80,-0.78,-0.77,-0.72,-0.60,-0.42,-0.01,-0.47]
];

// shell-closure labels per panel
const PEAKS_NL1  = [106, 120, 126, 132, 138];
const PEAKS_FULL = [106, 114, 120, 132, 138];
const PEAKS_TM1  = [120, 132, 138];

const COLORS = ['#000000', '#ee0000', '#00b400', '#0000ff', '#00e0e8'];

// panel layout (column, row)
const PANELS = [
  { name: 'NL1',    lines: NL1,   peaks: PEAKS_NL1,  col: 0, row: 0 },
  { name: 'NL3',    lines: NL3,   peaks: PEAKS_FULL, col: 0, row: 1 },
  { name: 'NLSH',   lines: NLSH,  peaks: PEAKS_FULL, col: 0, row: 2 },
  { name: 'TM1',    lines: TM1,   peaks: PEAKS_TM1,  col: 0, row: 3 },
  { name: 'TW99',   lines: TW99,  peaks: PEAKS_FULL, col: 1, row: 0 },
  { name: 'DD-ME1', lines: DDME1, peaks: PEAKS_FULL, col: 1, row: 1 },
  { name: 'PK1',    lines: PK1,   peaks: PEAKS_FULL, col: 1, row: 2 },
  { name: 'PK1R',   lines: PK1R,  peaks: PEAKS_FULL, col: 1, row: 3 }
];

const COLS = [
  { left: 0,   width: 720, padR: 8, xmax: 142 },
  { left: 795, width: 711, padR: 3, xmax: 141.7 }
];
const ROW_TOP = [4, 196, 388, 580];
const ROW_H = 192;
const PAD = 26;       // room for the half-height of the y labels
const X_AXIS_H = 32;  // tick labels under the bottom row
const PAD_BOTTOM = 10;

Chart.defaults.font.family = '"Liberation Sans", Arial, sans-serif';
Chart.defaults.color = '#000';

// frame, inward ticks, peak labels and model name
const framePlugin = {
  id: 'frame',
  afterDraw(chart, args, opts) {
    const ctx = chart.ctx;
    const a = chart.chartArea;
    const x = chart.scales.x, y = chart.scales.y;
    ctx.save();
    ctx.strokeStyle = '#000';
    ctx.lineWidth = 2;
    ctx.beginPath();
    for (let z = 100; z <= 140; z += 2) {
      const px = x.getPixelForValue(z);
      const len = z % 10 === 0 ? 12 : 6;
      ctx.moveTo(px, a.bottom); ctx.lineTo(px, a.bottom - len);
      ctx.moveTo(px, a.top); ctx.lineTo(px, a.top + len);
    }
    for (let k = -11; k <= 1; k++) {
      const py = y.getPixelForValue(k / 10);
      const len = k % 4 === 0 ? 11 : 5;
      ctx.moveTo(a.left, py); ctx.lineTo(a.left + len, py);
      ctx.moveTo(a.right, py); ctx.lineTo(a.right - len, py);
    }
    ctx.stroke();
    ctx.lineWidth = 2.5;
    ctx.strokeRect(a.left, a.top, a.right - a.left, a.bottom - a.top);

    // labels of the peaks, just above the highest line
    ctx.fillStyle = '#000';
    ctx.font = '27px "Liberation Sans", Arial, sans-serif';
    ctx.textAlign = 'center';
    ctx.textBaseline = 'alphabetic';
    opts.peaks.forEach(p => {
      const i = Z.indexOf(p);
      let top = -Infinity;
      opts.lines.forEach(row => { if (row[i] !== null && row[i] > top) top = row[i]; });
      ctx.fillText(String(p), x.getPixelForValue(p) + 4, y.getPixelForValue(top) - 3);
    });

    // model name
    ctx.font = '35px "Liberation Sans", Arial, sans-serif';
    ctx.textAlign = 'left';
    const w = ctx.measureText(opts.name).width;
    let nx = a.left + 501;
    if (nx + w > a.right - 10) nx = a.right - 10 - w;
    ctx.fillText(opts.name, nx, a.top + 168.5);
    ctx.restore();
  }
};

function makePanel(p) {
  const c = COLS[p.col];
  const bottomRow = p.row === 3;
  const canvas = document.createElement('canvas');
  const h = PAD + ROW_H + (bottomRow ? X_AXIS_H + PAD_BOTTOM : PAD);
  canvas.width = c.width;
  canvas.height = h;
  canvas.style.left = c.left + 'px';
  canvas.style.top = (ROW_TOP[p.row] - PAD) + 'px';
  document.body.appendChild(canvas);

  const datasets = p.lines.map((row, k) => ({
    data: row.map((v, i) => ({ x: Z[i], y: v })),
    borderColor: COLORS[k % COLORS.length],
    borderWidth: 1,
    pointRadius: 0,
    tension: 0,
    fill: false
  }));

  new Chart(canvas, {
    type: 'line',
    data: { datasets },
    options: {
      responsive: false,
      animation: false,
      events: [],
      layout: { padding: { top: PAD, bottom: bottomRow ? PAD_BOTTOM : PAD, left: 0, right: c.padR } },
      plugins: {
        legend: { display: false },
        tooltip: { enabled: false },
        frame: { name: p.name, peaks: p.peaks, lines: p.lines }
      },
      scales: {
        x: {
          type: 'linear',
          min: 98,
          max: c.xmax,
          display: bottomRow,
          grid: { display: false, drawTicks: false },
          border: { display: false },
          afterBuildTicks: axis => { axis.ticks = X_TICKS.map(v => ({ value: v })); },
          afterFit: axis => { axis.height = bottomRow ? X_AXIS_H : 0; },
          ticks: {
            font: { size: 22 },
            padding: 5,
            maxRotation: 0,
            autoSkip: false,
            callback: v => String(v)
          }
        },
        y: {
          min: -1.2,
          max: 0.2,
          grid: { display: false, drawTicks: false },
          border: { display: false },
          afterBuildTicks: axis => { axis.ticks = Y_TICKS.map(v => ({ value: v })); },
          afterFit: axis => { axis.width = 96; },
          ticks: {
            font: { size: 22 },
            padding: 8,
            autoSkip: false,
            callback: v => (v === 0 ? '0' : v.toFixed(1))
          }
        }
      }
    },
    plugins: [framePlugin]
  });
}

PANELS.forEach(makePanel);
</script>
</body>
</html>
